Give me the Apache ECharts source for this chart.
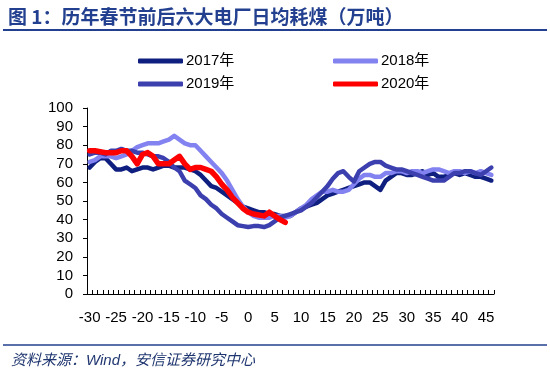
<!DOCTYPE html>
<html>
<head>
<meta charset="utf-8">
<script src="https://cdn.jsdelivr.net/npm/echarts@6/dist/echarts.min.js"></script>
<style>
html,body{margin:0;padding:0;background:#fff;}
#c{width:550px;height:371px;}
</style>
</head>
<body>
<div id="c"></div>
<script>
// Days relative to Spring Festival
var categories = [];
for (var d = -30; d <= 46; d++) categories.push(String(d));

var seriesNames = ['2017年', '2018年', '2019年', '2020年'];

var y2017 = [68,71,73,73,70,67,67,68,66,67,
             68,68,67,68,69,69,68,68,68,67,
             66,64,61,58,57,55,53,51,49,47,
             46,45,44,44,43,43,42,42,42,44,
             46,47,48,49,51,53,54,55,56,57,
             58,59,60,60,58,56,61,63,65,65,
             64,64,65,66,64,65,63,63,64,65,
             64,65,64,63,63,62,61];

var y2018 = [71,72,74,74,74,73,74,75,77,79,
             80,81,81,81,82,83,85,83,81,80,
             80,77,74,71,68,65,61,56,51,47,
             44,42,41,41,41,42,42,41,42,44,
             46,48,51,53,55,55,56,55,55,56,
             59,62,64,64,63,63,65,65,66,66,
             65,66,66,65,66,67,67,66,65,66,
             66,65,66,65,66,65,64];

var y2019 = [75,76,76,75,77,77,78,77,77,76,
             76,75,74,74,73,71,68,66,61,59,
             57,53,51,48,46,43,41,39,37,36.5,
             36,36.5,36.5,36,37,39,41,42,43,44,
             45,47,49,52,55,58,62,65,66,63,
             60.5,66,68,70,71,71,69,68,67,67,
             66,65,64,63,62,61,61,61,63,65,
             65,66,66,65,64,66,68];

var y2020 = [77,77,76.5,76,76,76,77,77,74,70,
             75,76,74,70,70,70,72,74,70,67,
             68,68,67,66,63,59,56,52,49,46,
             44,43,42.5,42,44,42,40,38.5];

var yTicks = {min: 0, max: 100, interval: 10};

var colors = ['#0f1f80', '#8282f0', '#3c3fae', '#ff0000'];
var widths = [4.5, 4.5, 4.5, 5.5];

var chart = echarts.init(document.getElementById('c'), null, {renderer: 'canvas'});

var fontLatin = '"Liberation Sans", Arial, "Noto Sans CJK SC", sans-serif';
var fontCJK = '"Noto Sans CJK SC", sans-serif';

function mkSeries(i, data) {
  return {
    name: seriesNames[i],
    type: 'line',
    data: data,
    symbol: 'none',
    smooth: false,
    lineStyle: {width: widths[i], color: colors[i], join: 'round', cap: 'round'},
    itemStyle: {color: colors[i]},
    z: 2 + i
  };
}

var legendCommon = {
  orient: 'vertical',
  icon: 'roundRect',
  itemWidth: 45,
  itemHeight: 5,
  itemGap: 7,
  top: 48,
  textStyle: {fontFamily: fontLatin, fontSize: 15, color: '#000', lineHeight: 16, padding: [0,0,0,-2]},
  selectedMode: false
};

chart.setOption({
  animation: false,
  backgroundColor: '#fff',
  color: colors,
  title: [{
    text: '图 1：历年春节前后六大电厂日均耗煤（万吨）',
    left: 3, top: 2,
    textStyle: {fontFamily: fontCJK, fontSize: 19, fontWeight: 'bold', color: '#22408f'}
  }, {
    text: '资料来源：Wind，安信证券研究中心',
    left: 6, top: 348,
    textStyle: {fontFamily: fontLatin, fontSize: 15, fontStyle: 'italic', fontWeight: 'normal', color: '#203670'}
  }],
  graphic: [
    {type: 'line', shape: {x1: 3, y1: 30, x2: 547, y2: 30}, style: {stroke: '#22408f', lineWidth: 2}},
    {type: 'line', shape: {x1: 3, y1: 345, x2: 547, y2: 345}, style: {stroke: '#22408f', lineWidth: 1.5}}
  ],
  legend: [
    Object.assign({}, legendCommon, {left: 133, data: [seriesNames[0], seriesNames[2]]}),
    Object.assign({}, legendCommon, {left: 328, data: [seriesNames[1], seriesNames[3]]})
  ],
  grid: {left: 87, right: 56, top: 108, bottom: 77, containLabel: false},
  xAxis: {
    type: 'category',
    data: categories,
    boundaryGap: true,
    axisLine: {show: true, lineStyle: {color: '#000', width: 1}},
    axisTick: {show: true, inside: true, length: 4, interval: 0, lineStyle: {color: '#000'}},
    axisLabel: {interval: 4, margin: 16, fontFamily: fontLatin, fontSize: 15, color: '#000'},
    splitLine: {show: false}
  },
  yAxis: {
    type: 'value',
    min: yTicks.min, max: yTicks.max, interval: yTicks.interval,
    axisLine: {show: true, lineStyle: {color: '#000', width: 1}},
    axisTick: {show: true, inside: false, length: 4, lineStyle: {color: '#000'}},
    axisLabel: {margin: 14, fontFamily: fontLatin, fontSize: 15, color: '#000'},
    splitLine: {show: false}
  },
  series: [mkSeries(0, y2017), mkSeries(1, y2018), mkSeries(2, y2019), mkSeries(3, y2020)]
});
</script>
</body>
</html>
